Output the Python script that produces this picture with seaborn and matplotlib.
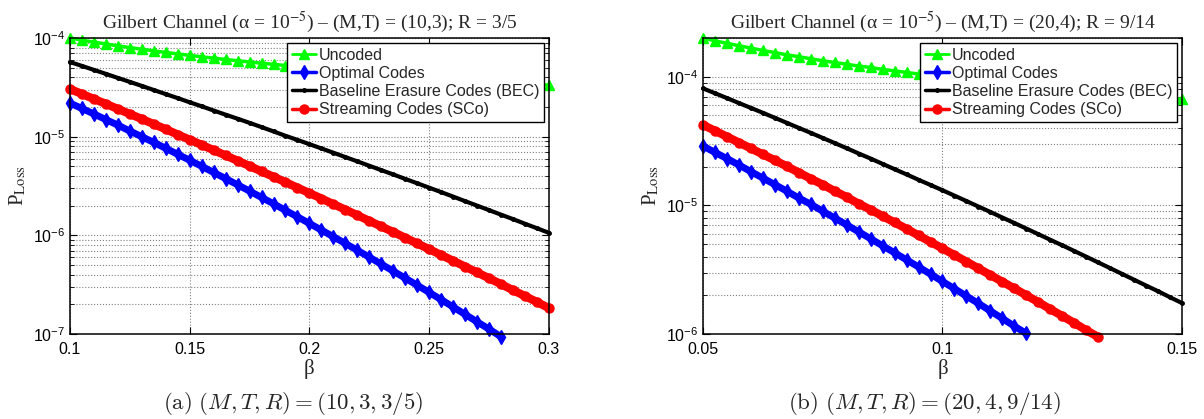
import numpy as np
import pandas as pd
import seaborn as sns
import matplotlib.pyplot as plt
from matplotlib.ticker import LogLocator, NullFormatter

# beta grids (x values) for the two panels
beta_a = [0.100, 0.105, 0.110, 0.115, 0.120, 0.125, 0.130, 0.135, 0.140, 0.145,
          0.150, 0.155, 0.160, 0.165, 0.170, 0.175, 0.180, 0.185, 0.190, 0.195,
          0.200, 0.205, 0.210, 0.215, 0.220, 0.225, 0.230, 0.235, 0.240, 0.245,
          0.250, 0.255, 0.260, 0.265, 0.270, 0.275, 0.280, 0.285, 0.290, 0.295,
          0.300]
beta_b = [0.0500, 0.0525, 0.0550, 0.0575, 0.0600, 0.0625, 0.0650, 0.0675, 0.0700, 0.0725,
          0.0750, 0.0775, 0.0800, 0.0825, 0.0850, 0.0875, 0.0900, 0.0925, 0.0950, 0.0975,
          0.1000, 0.1025, 0.1050, 0.1075, 0.1100, 0.1125, 0.1150, 0.1175, 0.1200, 0.1225,
          0.1250, 0.1275, 0.1300, 0.1325, 0.1350, 0.1375, 0.1400, 0.1425, 0.1450, 0.1475,
          0.1500]

# panel (a): (M,T,R) = (10,3,3/5)
uncoded_a = [1.00e-4, 9.52e-5, 9.09e-5, 8.70e-5, 8.33e-5, 8.00e-5, 7.69e-5, 7.41e-5, 7.14e-5, 6.90e-5,
             6.67e-5, 6.45e-5, 6.25e-5, 6.06e-5, 5.88e-5, 5.71e-5, 5.56e-5, 5.41e-5, 5.26e-5, 5.13e-5,
             5.00e-5, 4.88e-5, 4.76e-5, 4.65e-5, 4.55e-5, 4.44e-5, 4.35e-5, 4.26e-5, 4.17e-5, 4.08e-5,
             4.00e-5, 3.92e-5, 3.85e-5, 3.77e-5, 3.70e-5, 3.64e-5, 3.57e-5, 3.51e-5, 3.45e-5, 3.39e-5,
             3.33e-5]
optimal_a = [2.19e-5, 1.93e-5, 1.70e-5, 1.49e-5, 1.31e-5, 1.14e-5, 1.00e-5, 8.74e-6, 7.62e-6, 6.63e-6,
             5.77e-6, 5.01e-6, 4.34e-6, 3.76e-6, 3.25e-6, 2.81e-6, 2.42e-6, 2.09e-6, 1.79e-6, 1.54e-6,
             1.32e-6, 1.13e-6, 9.68e-7, 8.27e-7, 7.05e-7, 6.00e-7, 5.11e-7, 4.34e-7, 3.68e-7, 3.12e-7,
             2.64e-7, 2.23e-7, 1.88e-7, 1.58e-7, 1.33e-7, 1.12e-7, 9.38e-8]
bec_a = [5.71e-5, 5.21e-5, 4.75e-5, 4.33e-5, 3.94e-5, 3.59e-5, 3.27e-5, 2.97e-5, 2.70e-5, 2.46e-5,
         2.23e-5, 2.03e-5, 1.84e-5, 1.67e-5, 1.52e-5, 1.38e-5, 1.25e-5, 1.13e-5, 1.02e-5, 9.27e-6,
         8.39e-6, 7.60e-6, 6.87e-6, 6.21e-6, 5.62e-6, 5.07e-6, 4.58e-6, 4.14e-6, 3.73e-6, 3.37e-6,
         3.04e-6, 2.74e-6, 2.47e-6, 2.22e-6, 2.00e-6, 1.80e-6, 1.62e-6, 1.46e-6, 1.31e-6, 1.18e-6,
         1.06e-6]
sco_a = [3.04e-5, 2.71e-5, 2.41e-5, 2.15e-5, 1.91e-5, 1.70e-5, 1.51e-5, 1.34e-5, 1.19e-5, 1.05e-5,
         9.32e-6, 8.25e-6, 7.30e-6, 6.45e-6, 5.70e-6, 5.04e-6, 4.44e-6, 3.92e-6, 3.46e-6, 3.04e-6,
         2.68e-6, 2.36e-6, 2.07e-6, 1.82e-6, 1.60e-6, 1.40e-6, 1.23e-6, 1.08e-6, 9.45e-7, 8.27e-7,
         7.23e-7, 6.32e-7, 5.52e-7, 4.82e-7, 4.21e-7, 3.67e-7, 3.20e-7, 2.78e-7, 2.42e-7, 2.11e-7,
         1.83e-7]

# panel (b): (M,T,R) = (20,4,9/14)
uncoded_b = [2.00e-4, 1.90e-4, 1.82e-4, 1.74e-4, 1.67e-4, 1.60e-4, 1.54e-4, 1.48e-4, 1.43e-4, 1.38e-4,
             1.33e-4, 1.29e-4, 1.25e-4, 1.21e-4, 1.18e-4, 1.14e-4, 1.11e-4, 1.08e-4, 1.05e-4, 1.03e-4,
             1.00e-4, 9.76e-5, 9.52e-5, 9.30e-5, 9.09e-5, 8.89e-5, 8.70e-5, 8.51e-5, 8.33e-5, 8.16e-5,
             8.00e-5, 7.84e-5, 7.69e-5, 7.55e-5, 7.41e-5, 7.27e-5, 7.14e-5, 7.02e-5, 6.90e-5, 6.78e-5,
             6.67e-5]
optimal_b = [2.89e-5, 2.58e-5, 2.31e-5, 2.06e-5, 1.83e-5, 1.63e-5, 1.45e-5, 1.29e-5, 1.14e-5, 1.02e-5,
             9.00e-6, 7.97e-6, 7.05e-6, 6.23e-6, 5.50e-6, 4.85e-6, 4.28e-6, 3.77e-6, 3.32e-6, 2.92e-6,
             2.56e-6, 2.25e-6, 1.97e-6, 1.73e-6, 1.51e-6, 1.32e-6, 1.15e-6, 1.01e-6]
bec_b = [8.11e-5, 7.44e-5, 6.82e-5, 6.24e-5, 5.72e-5, 5.24e-5, 4.79e-5, 4.38e-5, 4.00e-5, 3.66e-5,
         3.34e-5, 3.05e-5, 2.78e-5, 2.53e-5, 2.31e-5, 2.10e-5, 1.91e-5, 1.74e-5, 1.58e-5, 1.44e-5,
         1.31e-5, 1.19e-5, 1.08e-5, 9.79e-6, 8.88e-6, 8.04e-6, 7.29e-6, 6.60e-6, 5.97e-6, 5.40e-6,
         4.89e-6, 4.42e-6, 3.99e-6, 3.60e-6, 3.25e-6, 2.93e-6, 2.64e-6, 2.38e-6, 2.15e-6, 1.93e-6,
         1.74e-6]
sco_b = [4.22e-5, 3.80e-5, 3.42e-5, 3.08e-5, 2.77e-5, 2.49e-5, 2.24e-5, 2.01e-5, 1.80e-5, 1.61e-5,
         1.45e-5, 1.29e-5, 1.16e-5, 1.03e-5, 9.24e-6, 8.25e-6, 7.36e-6, 6.56e-6, 5.84e-6, 5.20e-6,
         4.62e-6, 4.11e-6, 3.65e-6, 3.24e-6, 2.87e-6, 2.55e-6, 2.26e-6, 2.00e-6, 1.77e-6, 1.56e-6,
         1.38e-6, 1.22e-6, 1.07e-6, 9.48e-7]

names = ['Uncoded', 'Optimal Codes', 'Baseline Erasure Codes (BEC)', 'Streaming Codes (SCo)']

styles = {
    'Uncoded': dict(color=(0, 1, 0), marker='^', markersize=6.5, linewidth=2.5),
    'Optimal Codes': dict(color=(0, 0, 1), marker='d', markersize=7, linewidth=5.0),
    'Baseline Erasure Codes (BEC)': dict(color='black', marker='.', markersize=5, linewidth=3.0),
    'Streaming Codes (SCo)': dict(color=(1, 0, 0), marker='o', markersize=6.5, linewidth=6.0),
}
legend_lw = {'Uncoded': 2.0, 'Optimal Codes': 2.5,
             'Baseline Erasure Codes (BEC)': 2.5, 'Streaming Codes (SCo)': 2.5}

serif = ['Liberation Serif', 'DejaVu Serif']


def long_table(beta, series):
    rows = []
    for name, vals in zip(names, series):
        for b, p in zip(beta, vals):
            rows.append((name, b, p))
    return pd.DataFrame(rows, columns=['scheme', 'beta', 'ploss'])


def draw_panel(ax, df, xlim, ylim, xticks, xticklabels, title):
    for name in names:
        sub = df[df.scheme == name]
        st = styles[name]
        sns.lineplot(data=sub, x='beta', y='ploss', ax=ax, label=name,
                     markeredgecolor=st['color'], markeredgewidth=1.0,
                     clip_on=False, **st)
    ax.set_yscale('log')
    ax.set_xlim(*xlim)
    ax.set_ylim(*ylim)
    ax.set_xticks(xticks)
    ax.set_xticklabels(xticklabels)
    ax.yaxis.set_major_locator(LogLocator(base=10, numticks=10))
    ax.yaxis.set_minor_locator(LogLocator(base=10, subs=np.arange(2, 10), numticks=10))
    ax.yaxis.set_minor_formatter(NullFormatter())
    ax.grid(True, which='major', axis='both', linestyle=':', color='0.5', linewidth=0.8)
    ax.grid(True, which='minor', axis='y', linestyle=':', color='0.5', linewidth=0.8)
    ax.tick_params(which='both', direction='in', top=True, right=True,
                   labelsize=11.5, colors='black')
    ax.tick_params(which='major', length=5, width=0.8)
    ax.tick_params(which='minor', length=3, width=0.6)
    # push the x labels down a little so '0.1' clears the lowest y label
    ax.tick_params(axis='x', which='major', pad=6)
    for s in ax.spines.values():
        s.set_visible(True)
        s.set_linewidth(1.1)
        s.set_color('black')
    ax.set_title(title, family=serif, fontsize=14, math_fontfamily='stix', pad=7)
    ax.set_xlabel('β', family=serif, fontsize=15, labelpad=1)
    ax.set_ylabel(r'P$_{\rm Loss}$', family=serif, fontsize=15,
                  math_fontfamily='stix', labelpad=3)
    leg = ax.legend(loc='upper right', fontsize=11.5, frameon=True, fancybox=False,
                    edgecolor='black', framealpha=1, borderaxespad=0.3, labelspacing=0.2,
                    handlelength=1.5, handletextpad=0.2, borderpad=0.3)
    leg.get_frame().set_linewidth(1.0)
    for line, text in zip(leg.get_lines(), leg.get_texts()):
        line.set_linewidth(legend_lw[text.get_text()])


sns.set_style('ticks')
plt.rcParams['font.family'] = ['Liberation Sans', 'DejaVu Sans']
plt.rcParams['axes.axisbelow'] = True

fig = plt.figure(figsize=(12.04, 4.19), dpi=100)
ax_a = fig.add_axes([0.0581, 0.2029, 0.3978, 0.7064])
ax_b = fig.add_axes([0.5839, 0.2029, 0.3978, 0.7064])

df_a = long_table(beta_a, [uncoded_a, optimal_a, bec_a, sco_a])
df_b = long_table(beta_b, [uncoded_b, optimal_b, bec_b, sco_b])

draw_panel(ax_a, df_a, (0.1, 0.3), (1e-7, 1e-4),
           [0.1, 0.15, 0.2, 0.25, 0.3], ['0.1', '0.15', '0.2', '0.25', '0.3'],
           r'Gilbert Channel (α = 10$^{-5}$) – (M,T) = (10,3); R = 3/5')
draw_panel(ax_b, df_b, (0.05, 0.15), (1e-6, 2e-4),
           [0.05, 0.1, 0.15], ['0.05', '0.1', '0.15'],
           r'Gilbert Channel (α = 10$^{-5}$) – (M,T) = (20,4); R = 9/14')

fig.text(293 / 1204, 1 - 403 / 419, r'$\mathrm{(a)}\ (M,T,R) = (10,3,3/5)$',
         math_fontfamily='cm', fontsize=16.5, ha='center', va='center')
fig.text(925 / 1204, 1 - 403 / 419, r'$\mathrm{(b)}\ (M,T,R) = (20,4,9/14)$',
         math_fontfamily='cm', fontsize=16.5, ha='center', va='center')

fig.savefig('out.png', dpi=100)
